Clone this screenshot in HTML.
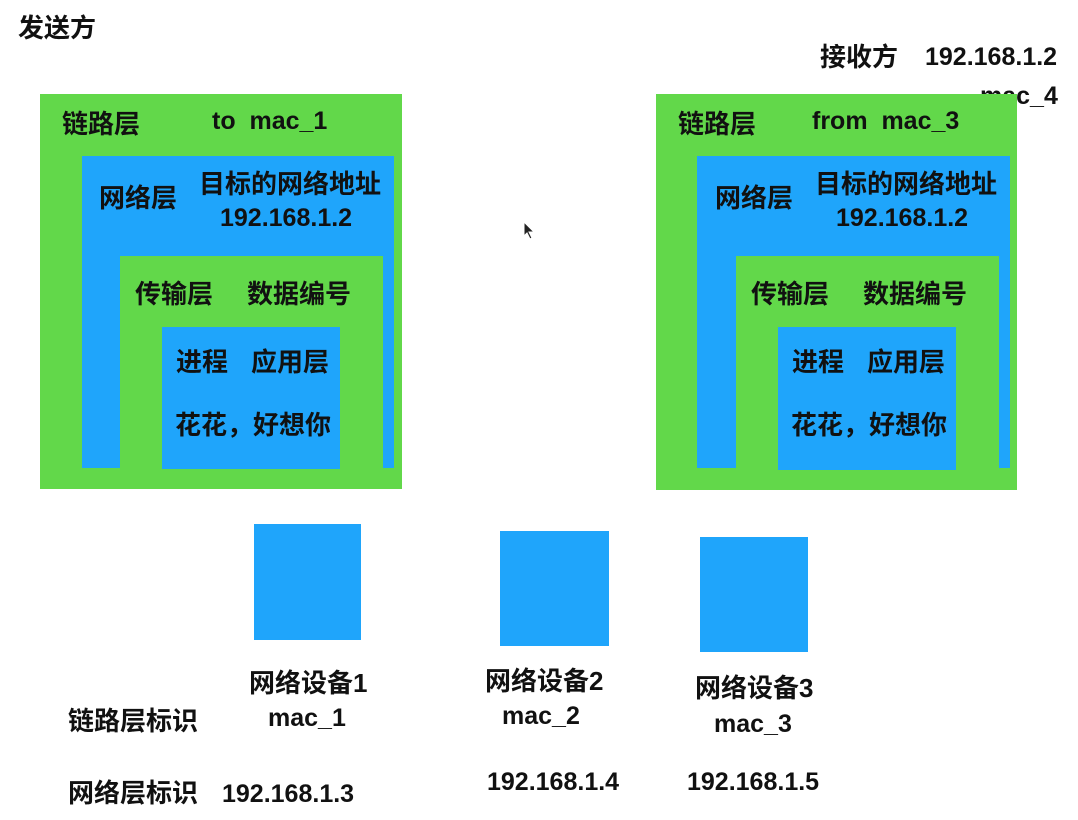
<!DOCTYPE html>
<html><head><meta charset="utf-8"><style>
body{margin:0;width:1078px;height:820px;background:#fff;position:relative;overflow:hidden;font-family:"Liberation Sans","Noto Sans CJK SC",sans-serif;}
.r{position:absolute}
.g{background:#62d84a}
.b{background:#1fa5fb}
.t{position:absolute;white-space:nowrap;font-size:26px;line-height:26px;font-weight:bold;color:#111}
.l{font-size:25px}
</style></head><body>
<div class="t" style="left:18px;top:15px">发送方</div>
<div class="t" style="left:820px;top:44px">接收方</div>
<div class="t l" style="left:925px;top:44px">192.168.1.2</div>
<div class="t l" style="left:980px;top:83px">mac_4</div>

<div class="r g" style="left:40px;top:94px;width:362px;height:395px"></div>
<div class="r b" style="left:82px;top:156px;width:312px;height:312px"></div>
<div class="r g" style="left:120px;top:256px;width:263px;height:212px"></div>
<div class="r b" style="left:162px;top:327px;width:178px;height:142px"></div>
<div class="t" style="left:62px;top:111px">链路层</div>
<div class="t l" style="left:212px;top:108px">to&nbsp; mac_1</div>
<div class="t" style="left:99px;top:185px">网络层</div>
<div class="t" style="left:199px;top:171px">目标的网络地址</div>
<div class="t l" style="left:220px;top:205px">192.168.1.2</div>
<div class="t" style="left:135px;top:281px">传输层</div>
<div class="t" style="left:247px;top:281px">数据编号</div>
<div class="t" style="left:176px;top:349px">进程</div>
<div class="t" style="left:251px;top:349px">应用层</div>
<div class="t" style="left:175px;top:412px">花花，好想你</div>

<div class="r g" style="left:656px;top:94px;width:361px;height:396px"></div>
<div class="r b" style="left:697px;top:156px;width:313px;height:312px"></div>
<div class="r g" style="left:736px;top:256px;width:263px;height:212px"></div>
<div class="r b" style="left:778px;top:327px;width:178px;height:143px"></div>
<div class="t" style="left:678px;top:111px">链路层</div>
<div class="t l" style="left:812px;top:108px">from&nbsp; mac_3</div>
<div class="t" style="left:715px;top:185px">网络层</div>
<div class="t" style="left:815px;top:171px">目标的网络地址</div>
<div class="t l" style="left:836px;top:205px">192.168.1.2</div>
<div class="t" style="left:751px;top:281px">传输层</div>
<div class="t" style="left:863px;top:281px">数据编号</div>
<div class="t" style="left:792px;top:349px">进程</div>
<div class="t" style="left:867px;top:349px">应用层</div>
<div class="t" style="left:791px;top:412px">花花，好想你</div>

<svg class="r" style="left:522px;top:220px" width="14" height="22"><polygon points="2,2 2,16 5,13 8,19 10,18 7,12 12,12" fill="#222" stroke="#fff" stroke-width="1"/></svg>

<div class="r b" style="left:254px;top:524px;width:107px;height:116px"></div>
<div class="r b" style="left:500px;top:531px;width:109px;height:115px"></div>
<div class="r b" style="left:700px;top:537px;width:108px;height:115px"></div>

<div class="t" style="left:249px;top:670px">网络设备1</div>
<div class="t l" style="left:268px;top:705px">mac_1</div>
<div class="t" style="left:485px;top:668px">网络设备2</div>
<div class="t l" style="left:502px;top:703px">mac_2</div>
<div class="t" style="left:695px;top:675px">网络设备3</div>
<div class="t l" style="left:714px;top:711px">mac_3</div>
<div class="t" style="left:68px;top:708px">链路层标识</div>
<div class="t" style="left:68px;top:780px">网络层标识</div>
<div class="t l" style="left:222px;top:781px">192.168.1.3</div>
<div class="t l" style="left:487px;top:769px">192.168.1.4</div>
<div class="t l" style="left:687px;top:769px">192.168.1.5</div>
</body></html>
